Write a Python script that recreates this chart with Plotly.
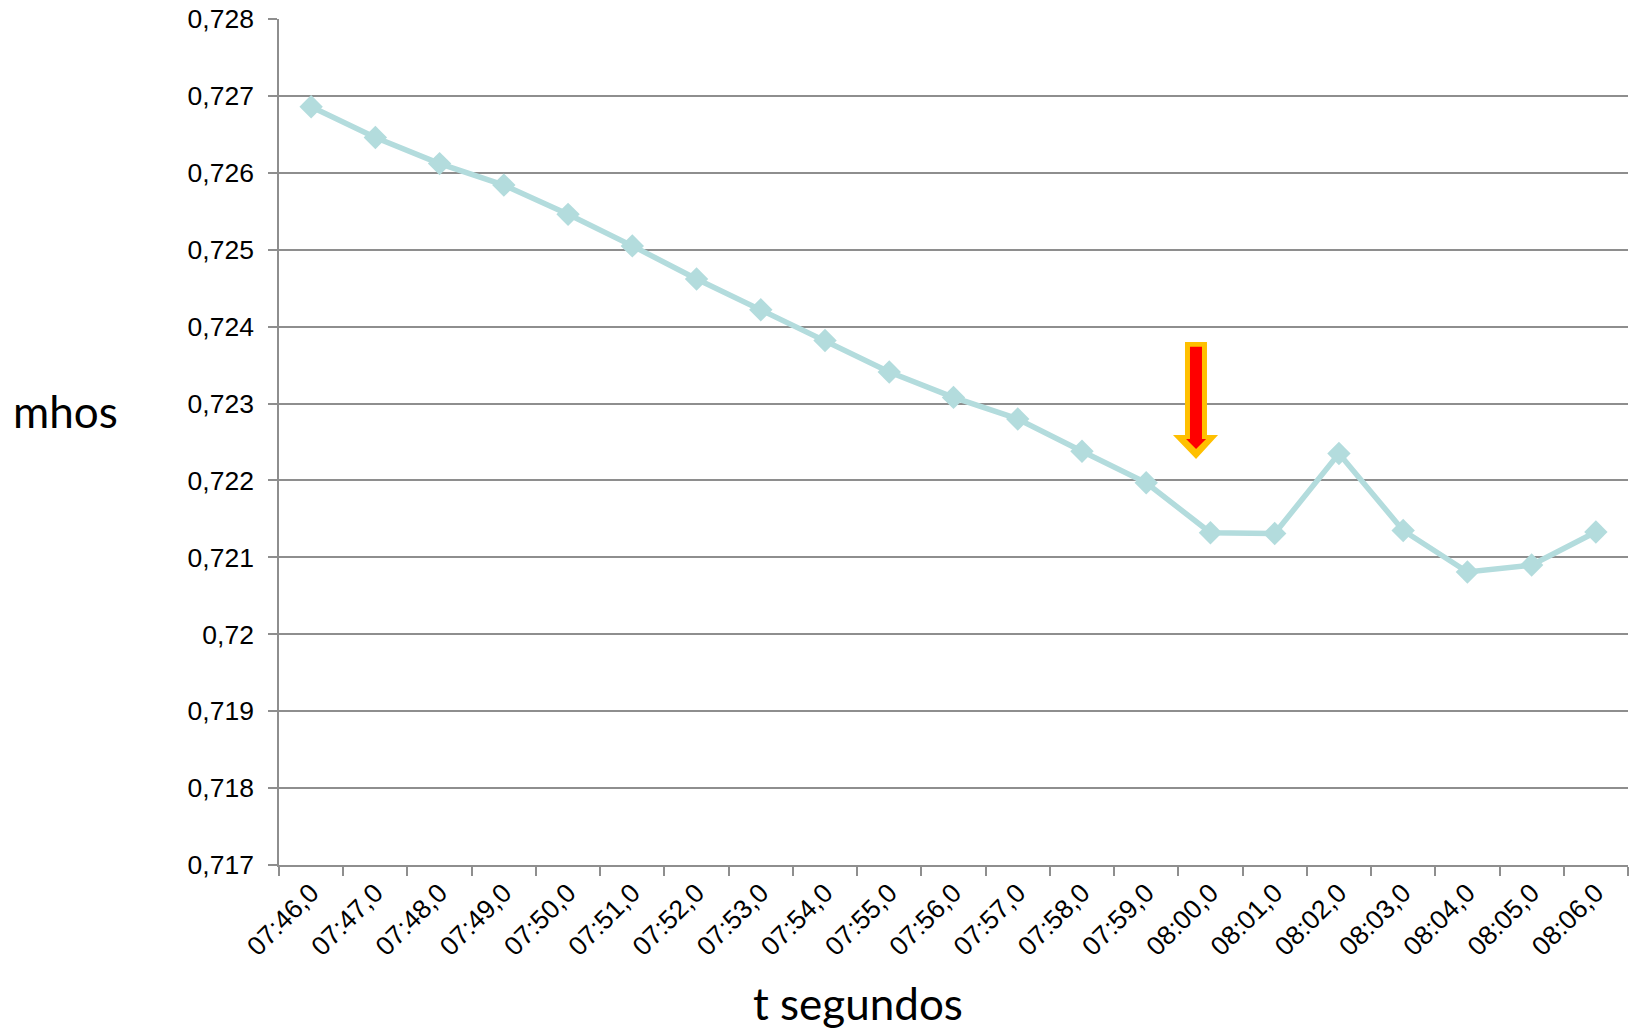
import plotly.graph_objects as go

# ---- data ----
times = ["07:46,0", "07:47,0", "07:48,0", "07:49,0", "07:50,0", "07:51,0", "07:52,0",
         "07:53,0", "07:54,0", "07:55,0", "07:56,0", "07:57,0", "07:58,0", "07:59,0",
         "08:00,0", "08:01,0", "08:02,0", "08:03,0", "08:04,0", "08:05,0", "08:06,0"]
mhos = [0.72686, 0.72646, 0.72612, 0.72584, 0.72546, 0.72505, 0.72462,
        0.72422, 0.72382, 0.72341, 0.72308, 0.72280, 0.72238, 0.72197,
        0.72132, 0.72131, 0.72235, 0.72135, 0.72081, 0.72090, 0.72133]
y_tick_vals = [0.717, 0.718, 0.719, 0.720, 0.721, 0.722, 0.723, 0.724, 0.725, 0.726, 0.727, 0.728]
y_tick_text = ["0,717", "0,718", "0,719", "0,72", "0,721", "0,722", "0,723", "0,724",
               "0,725", "0,726", "0,727", "0,728"]

LINE_COLOR = "#b3dcdd"
GRID = "#8e8e8e"
TICKFONT = dict(family="Liberation Sans, Arial, sans-serif", size=26.5, color="#000000")

fig = go.Figure()
fig.add_trace(go.Scatter(
    x=times, y=mhos, mode="lines+markers",
    line=dict(color=LINE_COLOR, width=5.5),
    marker=dict(symbol="diamond", size=18, color=LINE_COLOR),
    showlegend=False, hoverinfo="skip"))

# arrow (x in paper coords, y in data coords)
def poly(pts):
    return "M " + " L ".join(f"{x},{y}" for x, y in pts) + " Z"

outer = [(0.6716, 0.72380), (0.6879, 0.72380), (0.6879, 0.72259), (0.6961, 0.72259),
         (0.6798, 0.72228), (0.6627, 0.72259), (0.6716, 0.72259)]
inner = [(0.6753, 0.72374), (0.6842, 0.72374), (0.6842, 0.72254), (0.6872, 0.72254),
         (0.6798, 0.72241), (0.6724, 0.72254), (0.6753, 0.72254)]

shapes = [
    dict(type="path", xref="paper", yref="y", path=poly(outer),
         fillcolor="#ffc000", line=dict(width=0)),
    dict(type="path", xref="paper", yref="y", path=poly(inner),
         fillcolor="#ff0000", line=dict(width=0)),
]

fig.update_layout(
    width=1629, height=1029,
    margin=dict(l=279, r=1, t=19, b=164, autoexpand=False),
    paper_bgcolor="white", plot_bgcolor="white",
    shapes=shapes,
    xaxis=dict(
        type="category", range=[-0.5, len(times) - 0.5], autorange=False,
        tickangle=-45, tickfont=TICKFONT, automargin=False,
        showgrid=False, showline=True, linecolor=GRID, linewidth=1.5,
        ticks="outside", ticklen=9, tickcolor=GRID, tickwidth=1.5,
        tickson="boundaries", zeroline=False),
    yaxis=dict(
        range=[0.717, 0.728], autorange=False, automargin=False,
        tickvals=y_tick_vals, ticktext=y_tick_text,
        tickfont=TICKFONT, showgrid=True, gridcolor=GRID, gridwidth=1.5,
        showline=True, linecolor=GRID, linewidth=1.5,
        ticks="outside", ticklen=9, tickcolor=GRID, tickwidth=1.5,
        ticklabelstandoff=9, zeroline=False),
    annotations=[
        dict(text="mhos", xref="paper", yref="paper", x=-0.1586, y=0.5366,
             xanchor="center", yanchor="middle", showarrow=False,
             font=dict(family="Lato, sans-serif", size=44, color="#000000")),
        dict(text="t segundos", xref="paper", yref="paper", x=0.4295, y=-0.1631,
             xanchor="center", yanchor="middle", showarrow=False,
             font=dict(family="Lato, sans-serif", size=44, color="#000000")),
    ],
)

fig.write_html(
    "out.html",
    config={"displayModeBar": False},
    post_script="document.body.style.margin='0';document.body.style.overflow='hidden';",
)
